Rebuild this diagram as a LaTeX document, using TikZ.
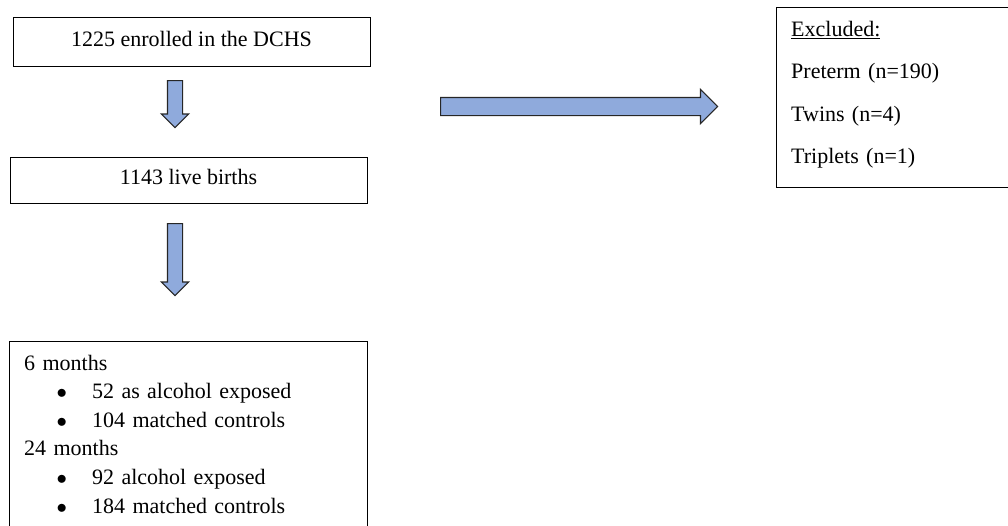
\documentclass[tikz,border=0pt]{standalone}
\usepackage{fontspec}
\setmainfont{Liberation Serif}
\usetikzlibrary{shapes.arrows,positioning}
\definecolor{arrowblue}{RGB}{143,170,220}
\newcommand{\bitem}[1]{\hspace*{32.5pt}\makebox[35.5pt][l]{$\bullet$}#1}
\tikzset{
    box/.style =        {rectangle,
                        draw=black,
                        line width=1pt,
                        fill=white,
                        text=black,
                        inner sep=0pt,
                        font=\fontsize{22}{28.6}\selectfont,
                        text height=15pt,
                        text depth=5.5pt},
    frame/.style =      {rectangle,
                        draw=black,
                        line width=1pt,
                        fill=white,
                        anchor=north west,
                        inner sep=0pt},
    listtext/.style =   {anchor=base west,
                        inner sep=0pt,
                        text width=330pt,
                        align=left,
                        text=black,
                        font=\fontsize{22}{28.6}\selectfont},
    blockarrow/.style = {single arrow,
                        draw=black!85,
                        fill=arrowblue,
                        line width=1.2pt,
                        single arrow tip angle=90,
                        anchor=tail,
                        inner sep=0pt}
}
\begin{document}
\begin{tikzpicture}[x=1pt,y=-1pt]
    \useasboundingbox (0,0) rectangle (1008,525);
    % main column
    \node[box, minimum width=357pt, minimum height=49pt] (enrolled) at (191.5,41.5)  {1225 enrolled in the DCHS};
    \node[box, minimum width=357pt, minimum height=46pt] (births)   at (188.5,180)   {1143 live births};
    \node[frame, minimum width=358pt, minimum height=220pt] (followup) at (9,341)    {};
    \node[listtext] (followtext) at ([shift={(15,29)}]followup.north west)
        {6 months\\
         \bitem{52 as alcohol exposed}\\
         \bitem{104 matched controls}\\
         24 months\\
         \bitem{92 alcohol exposed}\\
         \bitem{184 matched controls}};

    % exclusions
    \node[frame, minimum width=260pt, minimum height=180pt] (excluded) at (776,7) {};
    \node[listtext, text width=220pt, font=\fontsize{22}{42.5}\selectfont] (excludedtext) at ([shift={(15,29)}]excluded.north west)
        {\underline{Excluded:}\\
         Preterm (n=190)\\
         Twins (n=4)\\
         Triplets (n=1)};

    % block arrows
    \node[blockarrow, rotate=-90, minimum height=47pt,  inner ysep=7pt,   single arrow head extend=6pt] (down1) at (175,80)    {};
    \node[blockarrow, rotate=-90, minimum height=72pt,  inner ysep=7pt,   single arrow head extend=6pt] (down2) at (175,223)   {};
    \node[blockarrow,             minimum height=277pt, inner ysep=8.5pt, single arrow head extend=8pt] (right) at (440,106.5) {};
\end{tikzpicture}
\end{document}
